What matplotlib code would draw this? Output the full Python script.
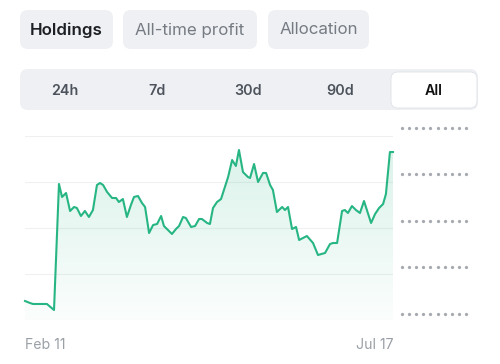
import matplotlib.pyplot as plt
import numpy as np
from matplotlib.patches import FancyBboxPatch
from matplotlib.colors import to_rgb

plt.rcParams['font.family'] = ['Inter', 'DejaVu Sans']

# portfolio history, day index since Feb 11 and value
days = [0, 2.1, 3.4, 6.4, 9.3, 12.3, 14.4, 15.7, 17.4, 19.1, 20.8, 22.0, 23.7, 25.4,
        27.1, 28.8, 30.5, 31.8, 33.1, 34.8, 36.9, 38.6, 39.8, 41.5, 43.2, 44.9, 46.2,
        47.9, 49.6, 50.9, 52.6, 54.3, 56.0, 57.7, 58.9, 60.6, 62.3, 64.0, 65.3, 67.0,
        68.2, 70.4, 72.1, 73.8, 75.0, 77.2, 78.4, 79.7, 81.4, 83.1, 86.1, 87.8, 89.4,
        90.7, 92.4, 94.5, 95.4, 97.1, 98.8, 100.9, 102.2, 103.9, 105.1, 106.8, 109.0,
        110.2, 111.5, 113.2, 114.9, 116.2, 119.5, 122.1, 124.2, 127.2, 129.3, 130.6,
        132.3, 134.4, 135.6, 136.9, 138.6, 140.3, 142.0, 143.7, 146.7, 148.4, 150.1,
        151.8, 153.0, 154.7, 156]
values = [413, 370, 348, 348, 348, 217, 2957, 2674, 2761, 2370, 2457, 2435, 2261, 2370,
          2239, 2391, 2935, 2978, 2935, 2783, 2652, 2652, 2565, 2630, 2239, 2500, 2674,
          2696, 2543, 2457, 1891, 2065, 2087, 2261, 2043, 1957, 1870, 1978, 2043, 2239,
          2217, 2022, 2043, 2196, 2196, 2109, 2087, 2435, 2565, 2630, 3109, 3478, 3348,
          3696, 3217, 3109, 3087, 3391, 3000, 3196, 3196, 2935, 2826, 2348, 2457, 2391,
          2457, 1978, 2022, 1739, 1826, 1674, 1413, 1457, 1652, 1674, 1674, 2370, 2391,
          2326, 2478, 2391, 2326, 2587, 2109, 2304, 2435, 2522, 2739, 3652, 3652]
grid_vals = [0, 1000, 2000, 3000, 4000]
date_labels = ['Feb 11', 'Jul 17']
tabs = ['Holdings', 'All-time profit', 'Allocation']
ranges = ['24h', '7d', '30d', '90d', 'All']

green = '#27b683'
W, H = 500, 364
fig = plt.figure(figsize=(W / 100, H / 100), dpi=100)
fig.patch.set_facecolor('white')

# pixel-coordinate layer for the UI pieces
ui = fig.add_axes([0, 0, 1, 1], zorder=0)
ui.set_xlim(0, W)
ui.set_ylim(H, 0)
ui.axis('off')

def pill(x0, x1, y0, y1, fc, ec='none', r=8, z=1):
    ui.add_patch(FancyBboxPatch((x0 + r, y0 + r), x1 - x0 - 2 * r, y1 - y0 - 2 * r,
                                boxstyle=f'round,pad={r}', fc=fc, ec=ec, lw=0.6, zorder=z))

tab_x = [(20, 113), (123, 257), (268, 369)]
for (x0, x1), t in zip(tab_x, tabs):
    pill(x0, x1, 10, 49, '#eef0f3')
    first = t == tabs[0]
    ui.text((x0 + x1) / 2, 30, t, ha='center', va='center', fontsize=12.2,
            color='#1c1f24' if first else '#767b83', fontweight='semibold' if first else 'normal')

pill(20, 478, 69, 110, '#eef0f3')
pill(391, 477, 72, 108, 'white', ec='#dfe2e6', r=7, z=2)
range_x = [65, 157, 248, 340, 434]
for xc, t in zip(range_x, ranges):
    ui.text(xc, 91, t, ha='center', va='center', fontsize=10.3, fontweight='semibold',
            color='#111111' if t == 'All' else '#4d535c', zorder=3)

# placeholder y labels (dots)
dot_y = [128, 174, 221, 267, 314]
for yy in dot_y:
    ui.scatter(np.linspace(402, 466, 10), [yy] * 10, s=5.5, color='#a6aab0', lw=0, zorder=2)

ui.text(25, 345, date_labels[0], ha='left', va='center', fontsize=10.2, color='#9aa0a6')
ui.text(393, 345, date_labels[1], ha='right', va='center', fontsize=10.2, color='#9aa0a6')

# chart
ax = fig.add_axes([25 / W, 1 - 320 / H, (393 - 25) / W, (320 - 136) / H], zorder=1)
ax.patch.set_alpha(0)
ax.set_xlim(0, 156)
ax.set_ylim(0, 4000)
for s in ax.spines.values():
    s.set_visible(False)
ax.set_xticks([])
ax.set_yticks([])
for g in grid_vals:
    ax.axhline(g, color='#eef0f2', lw=0.8, zorder=0)

fill = ax.fill_between(days, values, 0, color='none', lw=0)
rgb = to_rgb(green)
grad = np.zeros((100, 1, 4))
grad[:, 0, :3] = rgb
grad[:, 0, 3] = np.linspace(0.17, 0.02, 100)
im = ax.imshow(grad, extent=[0, 156, 0, max(values)], origin='upper', aspect='auto',
               zorder=1, interpolation='bilinear')
im.set_clip_path(fill.get_paths()[0], transform=ax.transData)

ax.plot(days, values, color=green, lw=1.5, solid_joinstyle='round', zorder=2, clip_on=False)

fig.savefig('out.png', dpi=100, facecolor='white')
